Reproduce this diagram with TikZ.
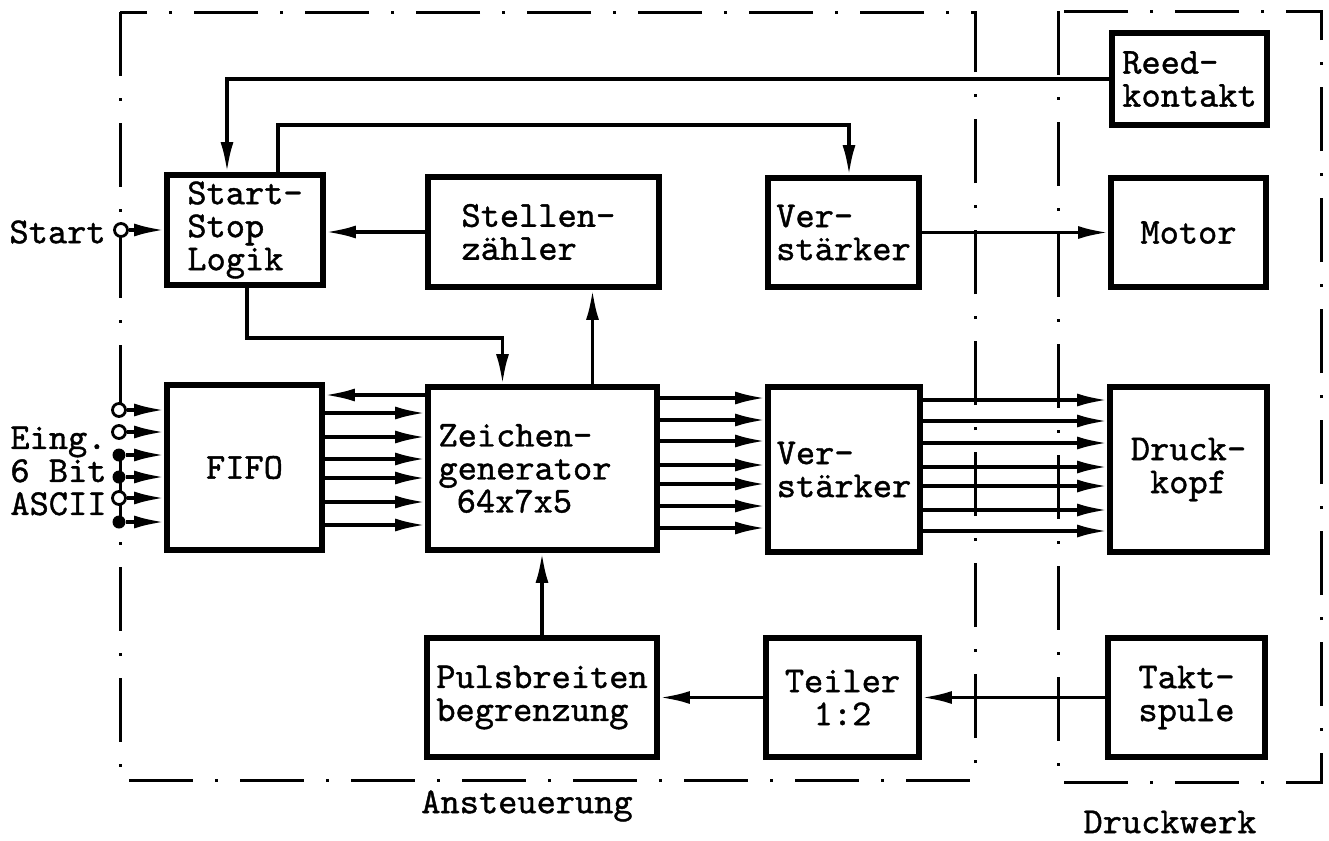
\documentclass[tikz,border=0pt]{standalone}
\usepackage{fontspec}
\usetikzlibrary{arrows.meta,calc}
\newfontfamily\dtfam{lmmono10-regular.otf}[FakeBold=1.1]
\newcommand\dtf{\fontsize{18.3}{16.5}\selectfont\dtfam}
\begin{document}
\begin{tikzpicture}[x=0.5pt,y=-0.5pt,
  box/.style={draw, line width=2.9pt, inner sep=0pt, font=\dtf, align=left},
  wh/.style 2 args={minimum width=#1*0.5pt, minimum height=#2*0.5pt},
  conn/.style={line width=1.7pt},
  arr/.style={conn, -{Latex[length=15pt,width=6.5pt]}},
  arrs/.style={conn, {Latex[length=15pt,width=6.5pt]}-},
  frame/.style={line width=1.5pt, dash pattern=on 32pt off 11pt on 1.5pt off 11pt},
  term/.style={circle, draw, line width=1.4pt, fill=white, minimum size=6.5pt, inner sep=0pt},
  fdot/.style={circle, fill, minimum size=6.5pt, inner sep=0pt},
  lbl/.style={font=\dtf, inner sep=0pt}]
\useasboundingbox (0,0) rectangle (1329,841);

% frames
\draw[frame] (120,12) rectangle (975,780);
\draw[frame] (1058,11) rectangle (1321,782);

% boxes
\node[box, wh={155}{92}] (reed) at (1189.5,79) {Reed-\\kontakt};
\node[box, wh={155}{109}] (motor) at (1188.5,232.5) {Motor};
\node[box, wh={157}{165}, align=center] (druck) at (1188.5,469.5) {Druck-\\kopf};
\node[box, wh={157}{119}] (takt) at (1186.5,697.5) {Takt-\\spule};
\node[box, wh={156}{110}] (ssl) at (245,230) {Start-\\Stop\\Logik};
\node[box, wh={231}{110}, text width=82pt] (stz) at (543.5,232) {Stellen-\\zähler};
\node[box, wh={151}{109}] (vst1) at (843.5,232.5) {Ver-\\stärker};
\node[box, wh={155}{165}] (fifo) at (244.5,467.5) {FIFO};
\node[box, wh={229}{163}, text width=104pt] (zg) at (542.5,468.5) {Zeichen-\\generator\\\hspace*{0.5em}64x7x5};
\node[box, wh={152}{165}] (vst2) at (844,469.5) {Ver-\\stärker};
\node[box, wh={230}{119}] (puls) at (542,697.5) {Pulsbreiten\\begrenzung};
\node[box, wh={153}{119}, align=center] (teil) at (842.5,697.5) {Teiler\\1:2};

% labels
\node[lbl, anchor=east] (lstart) at (106,232) {Start};
\node[lbl, anchor=west, align=left] (leing) at (10,471) {Eing.\\6 Bit\\ASCII};
\node[lbl] (lans) at (527,806) {Ansteuerung};
\node[lbl] (ldruck) at (1170,822) {Druckwerk};

% start terminal
\node[term] (tstart) at (121,230) {};
\draw[arr] (tstart) -- (tstart -| ssl.west);

% data inputs
\foreach \y/\s [count=\i] in {410/term,432/term,455/fdot,477/fdot,498/term,522/fdot} {
  \node[\s] (in\i) at (119,\y) {};
  \draw[arr] (in\i) -- (in\i -| fifo.west);
}

% FIFO <-> Zeichengenerator
\draw[arrs] (fifo.east |- 0,395) -- (zg.west |- 0,395);
\foreach \y in {413,437,459,478,502,525}
  \draw[arr] (fifo.east |- 0,\y) -- (zg.west |- 0,\y);
% Zeichengenerator -> Verstaerker
\foreach \y in {398,420,441,465,484,506,528}
  \draw[arr] (zg.east |- 0,\y) -- (vst2.west |- 0,\y);
% Verstaerker -> Druckkopf
\foreach \y in {400,421,443,467,486,510,531}
  \draw[arr] (vst2.east |- 0,\y) -- (druck.west |- 0,\y);

% control lines
\draw[arr] (reed.west) -| ($(ssl.north)+(-18,0)$);
\draw[arr] ($(ssl.north)+(33,0)$) -- ++(0,-47) -| ($(vst1.north)+(5.5,0)$);
\draw[arr] (stz.west) -- (stz.west -| ssl.east);
\draw[arr] (vst1.east) -- (vst1.east -| motor.west);
\draw[arr] ($(ssl.south)+(2,0)$) -- ++(0,50) -| ($(zg.north)+(-40,0)$);
\draw[arr] ($(zg.north)+(50,0)$) coordinate (zgt) -- (zgt |- stz.south);
\draw[arr] (puls.north) -- (puls.north |- zg.south);
\draw[arr] (teil.west) -- (teil.west -| puls.east);
\draw[arr] (takt.west) -- (takt.west -| teil.east);
\end{tikzpicture}
\end{document}
